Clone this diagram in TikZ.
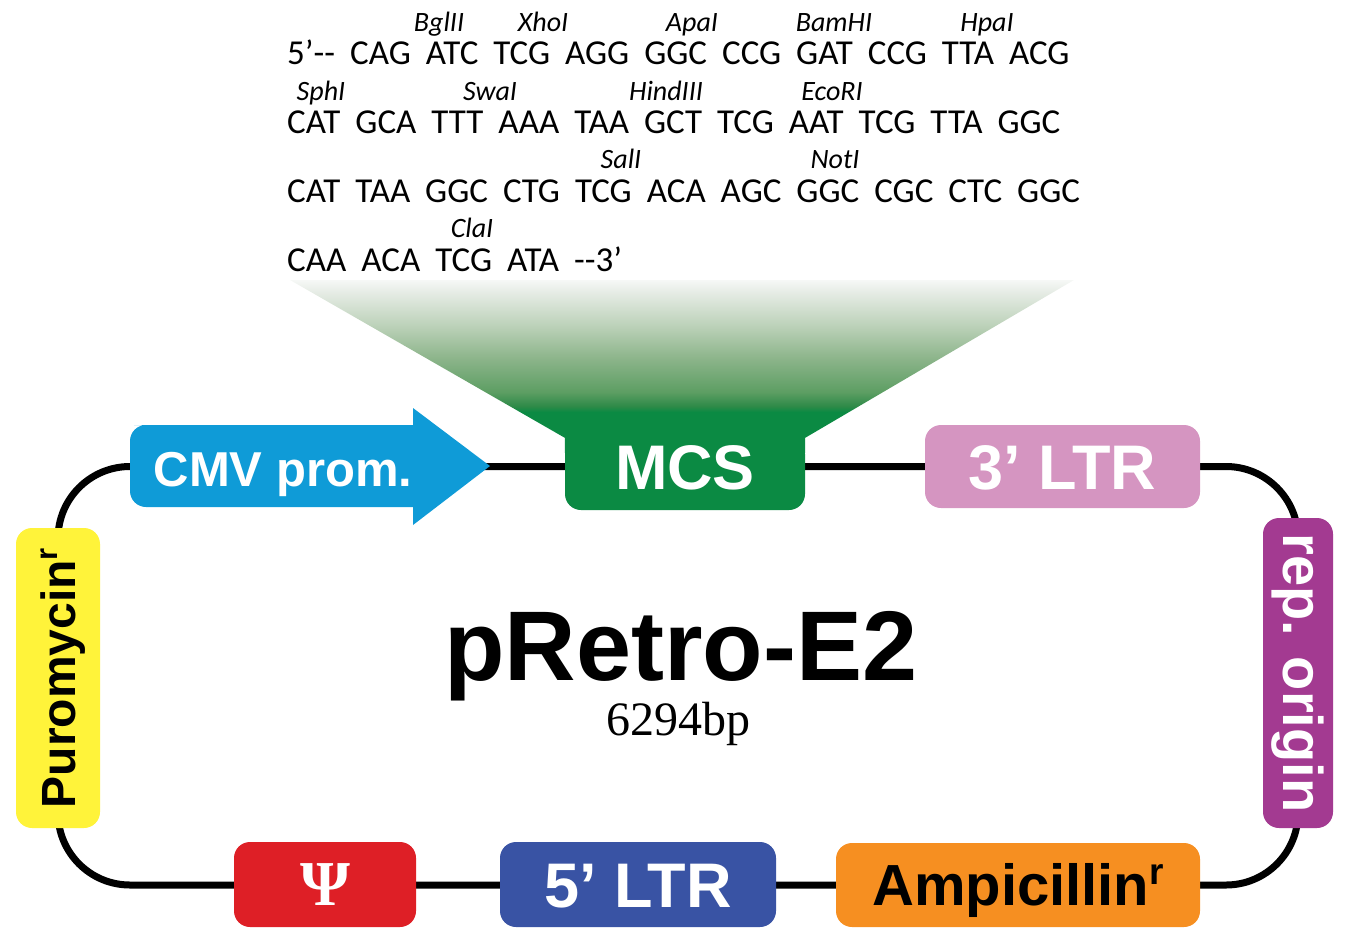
\documentclass[tikz,border=0pt]{standalone}
\usepackage{fontspec}
\setmainfont{Liberation Sans}
\newfontfamily\seqfont{Carlito}
\newfontfamily\serifft{Liberation Serif}
\usetikzlibrary{backgrounds,calc}
\definecolor{cmvblue}{HTML}{0F9BD7}
\definecolor{mcsgreen}{HTML}{0B8A43}
\definecolor{ltrpink}{HTML}{D595C1}
\definecolor{repmag}{HTML}{A33A91}
\definecolor{amporange}{HTML}{F68F21}
\definecolor{ltrblue}{HTML}{3953A4}
\definecolor{psired}{HTML}{DE1F26}
\definecolor{puroyellow}{HTML}{FFF33A}
\definecolor{fA}{HTML}{2E8A48}
\definecolor{fB}{HTML}{5D9E63}
\definecolor{fC}{HTML}{8DB58B}
\definecolor{fD}{HTML}{BDD2BA}
\definecolor{fE}{HTML}{E6ECE5}
\definecolor{fF}{HTML}{F6F8F6}
\pgfdeclareverticalshading{funnelshade}{100bp}{color(0bp)=(mcsgreen); color(36.8bp)=(mcsgreen); color(38.5bp)=(fA); color(42.6bp)=(fB); color(52.5bp)=(fC); color(62bp)=(fD); color(71.5bp)=(fE); color(75bp)=(fF); color(100bp)=(fF)}
\newcommand\seqline{\seqfont\fontsize{35}{35}\selectfont\spaceskip=15pt\relax}
\newcommand\enzfont{\seqfont\itshape\fontsize{28}{28}\selectfont}
\tikzset{
  box/.style={rectangle, rounded corners=16pt, inner sep=0pt, text depth=0pt, text=white},
  bigfont/.style={font=\bfseries\fontsize{63}{63}\selectfont, text height=45pt},
  loopline/.style={line width=7pt, rounded corners=72pt},
  codon/.style={anchor=base west, inner sep=0pt, font=\seqline},
  enz/.style={anchor=base, inner sep=0pt, font=\enzfont},
}
\begin{document}
\begin{tikzpicture}[x=1pt,y=-1pt]
\useasboundingbox (0,0) rectangle (1346,940);

% sequence
\node[codon] (s1) at (287,64) {5’-{}- CAG ATC TCG AGG GGC CCG GAT CCG TTA ACG};
\node[codon] (s2) at (287,133) {CAT GCA TTT AAA TAA GCT TCG AAT TCG TTA GGC};
\node[codon] (s3) at (287,202) {CAT TAA GGC CTG TCG ACA AGC GGC CGC CTC GGC};
\node[codon] (s4) at (287,271) {CAA ACA TCG ATA -{}-3’};

\node[enz] (e1) at (439,31) {BglII};
\node[enz] (e2) at (543,31) {XhoI};
\node[enz] (e3) at (692,31) {ApaI};
\node[enz] (e4) at (834,31) {BamHI};
\node[enz] (e5) at (987,31) {HpaI};
\node[enz] (e6) at (321,100) {SphI};
\node[enz] (e7) at (490,100) {SwaI};
\node[enz] (e8) at (666,100) {HindIII};
\node[enz] (e9) at (832,100) {EcoRI};
\node[enz] (e10) at (621,168) {SalI};
\node[enz] (e11) at (835,168) {NotI};
\node[enz] (e12) at (472,237) {ClaI};

% CMV arrow
\fill[cmvblue] (413,507) -- (150,507) [rounded corners=16pt] -- (130,507) -- (130,425) -- (150,425) [sharp corners] -- (413,425) -- (413,408) -- (490,466) -- (413,525) -- cycle;
\node[inner sep=0pt, text=white, text height=35pt, text depth=0pt, font=\bfseries\fontsize{49}{49}\selectfont] (cmv) at (283,469) {CMV prom.};

% boxes
\node[box, fill=mcsgreen, minimum width=240pt, minimum height=72pt, text height=45pt, text depth=14pt, font=\bfseries\fontsize{63}{63}\selectfont] (mcs) at (685,474) {MCS};
\node[box, bigfont, fill=ltrpink, minimum width=275pt, minimum height=83pt] (ltr3) at (1062.5,466.5) {3’ LTR};
\node[box, fill=repmag, rotate=-90, minimum width=310pt, minimum height=70pt, text height=29pt, font=\bfseries\fontsize{56}{56}\selectfont] (rep) at (1298,673) {rep. origin};
\node[box, fill=amporange, text=black, minimum width=364pt, minimum height=84pt, text height=41pt, font=\bfseries\fontsize{58}{58}\selectfont] (amp) at (1018,885) {Ampicillin\raisebox{0.36em}{\fontsize{37}{37}\selectfont r}};
\node[box, bigfont, fill=ltrblue, minimum width=276pt, minimum height=85pt] (ltr5) at (638,884.5) {5’ LTR};
\node[box, fill=psired, minimum width=182pt, minimum height=85pt, text height=42pt, font=\serifft\bfseries\fontsize{64}{64}\selectfont] (psi) at (325,884.5) {Ψ};
\node[box, fill=puroyellow, text=black, rotate=90, minimum width=300pt, minimum height=84pt, text height=34pt, font=\bfseries\fontsize{48}{48}\selectfont] (puro) at (58,678) {Puromycin\raisebox{0.36em}{\fontsize{31}{31}\selectfont r}};

% title
\node[inner sep=0pt, anchor=base, font=\bfseries\fontsize{99}{99}\selectfont] (title) at (681,680) {pRetro-E2};
\node[inner sep=0pt, anchor=base, font=\serifft\fontsize{48}{48}\selectfont] (bp) at (678,735) {6294bp};

\begin{scope}[on background layer]
\draw[loopline] (puro.center) |- (ltr3.center) -| (rep.center) |- (amp.center) -| (puro.center);
\shade[shading=funnelshade] (290,280) -- (1074,280) -- (mcs.north east) -- ($(mcs.north east)+(0,15)$) -- ($(mcs.north west)+(0,15)$) -- (mcs.north west) -- cycle;
\end{scope}
\end{tikzpicture}
\end{document}
